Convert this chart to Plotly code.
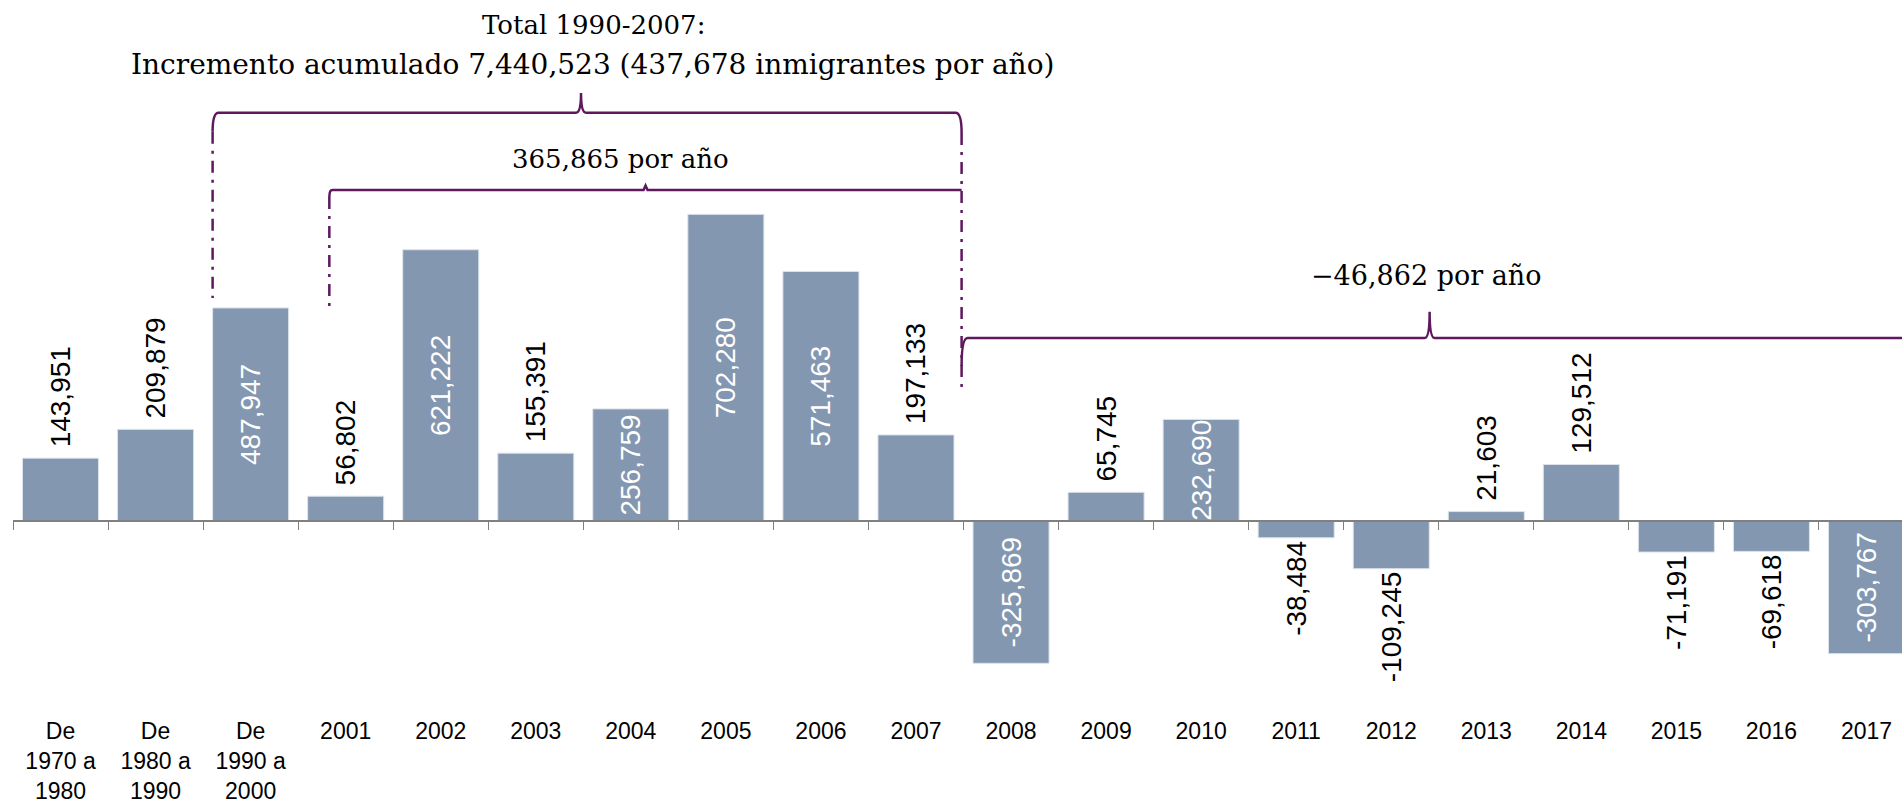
import plotly.graph_objects as go

# ---------------- data ----------------
categories = ["De<br>1970 a<br>1980", "De<br>1980 a<br>1990", "De<br>1990 a<br>2000",
              "2001", "2002", "2003", "2004", "2005", "2006", "2007", "2008", "2009",
              "2010", "2011", "2012", "2013", "2014", "2015", "2016", "2017"]
values = [143951, 209879, 487947, 56802, 621222, 155391, 256759, 702280, 571463, 197133,
          -325869, 65745, 232690, -38484, -109245, 21603, 129512, -71191, -69618, -303767]

total_title = "Total 1990-2007:"
total_text = "Incremento acumulado 7,440,523 (437,678 inmigrantes por año)"
avg_2001_2007 = "365,865 por año"
avg_2008_2017 = "\u221246,862 por año"

# ---------------- layout geometry ----------------
W, H = 1902, 803
PLOT_LEFT = 13
PLOT_BOTTOM = 715
ZERO_PX = 521
VAL_PER_PX = 2290
CAT_W = 95.05
X_MAX = -0.5 + (W - PLOT_LEFT) / CAT_W
Y_MAX = ZERO_PX * VAL_PER_PX
Y_MIN = -(PLOT_BOTTOM - ZERO_PX) * VAL_PER_PX

BAR_COLOR = "#8497B0"
PURPLE = "#5f175f"
SANS = "Liberation Sans, Arial, sans-serif"
SERIF = "DejaVu Serif, serif"


def yp(px):
    return (PLOT_BOTTOM - px) / PLOT_BOTTOM


def d(px):
    return px / CAT_W


labels = []
positions = []
for v in values:
    inside = abs(v) > 220000
    positions.append("inside" if inside else "outside")
    txt = f"{v:,}"
    if not inside and v > 0:
        txt = "\u00a0" + txt
    labels.append(txt)

fig = go.Figure()
fig.add_trace(go.Scatter(x=categories, y=[0] * len(categories), xaxis="x2", yaxis="y",
                         mode="markers", marker=dict(opacity=0), hoverinfo="skip",
                         showlegend=False))
fig.add_trace(go.Bar(
    x=categories, y=values, text=labels, textposition=positions, textangle=-90,
    insidetextanchor="middle", constraintext="none", cliponaxis=False,
    insidetextfont=dict(color="white", size=28, family=SANS),
    outsidetextfont=dict(color="black", size=28, family=SANS),
    marker=dict(color=BAR_COLOR, line=dict(color="#dde3eb", width=1)),
    width=0.8, hoverinfo="skip", showlegend=False))

# ---------------- braces ----------------
b1L, b1R, b1M = 1.6, 9.48, 5.476
b2L, b2M = 2.828, 6.155
b3M = 14.404
b3R = 19.9

shapes = []
line = dict(color=PURPLE, width=2.5)
dash = dict(color=PURPLE, width=2.5, dash="12px,7px,3px,7px")

p1 = (f"M {b1L},{yp(131.7)} Q {b1L},{yp(112.7)} {b1L + d(6)},{yp(112.7)} "
      f"L {b1M - d(5)},{yp(112.7)} Q {b1M},{yp(112.7)} {b1M},{yp(93)} "
      f"Q {b1M},{yp(112.7)} {b1M + d(5)},{yp(112.7)} "
      f"L {b1R - d(6)},{yp(112.7)} Q {b1R},{yp(112.7)} {b1R},{yp(133)}")
p2 = (f"M {b2L},{yp(197)} Q {b2L},{yp(190)} {b2L + d(3)},{yp(190)} "
      f"L {b2M - d(2)},{yp(190)} L {b2M},{yp(185.5)} L {b2M + d(2)},{yp(190)} "
      f"L {b1R},{yp(190)}")
p3 = (f"M {b1R},{yp(366)} Q {b1R},{yp(338)} {b1R + d(6)},{yp(338)} "
      f"L {b3M - d(5)},{yp(338)} Q {b3M},{yp(338)} {b3M},{yp(311.7)} "
      f"Q {b3M},{yp(338)} {b3M + d(5)},{yp(338)} "
      f"L {b3R - d(6)},{yp(338)} Q {b3R},{yp(338)} {b3R},{yp(366)}")
for p in (p1, p2, p3):
    shapes.append(dict(type="path", path=p, xref="x", yref="paper", line=line, layer="above"))

for xx, y0, y1 in ((b1L, 131.7, 298), (b2L, 197, 306), (b1R, 133, 393)):
    shapes.append(dict(type="line", xref="x", yref="paper", x0=xx, x1=xx,
                       y0=yp(y0), y1=yp(y1), line=dash, layer="above"))

annotations = [
    dict(text=total_title, x=5.61, y=yp(25), size=26),
    dict(text=total_text, x=5.6, y=yp(64), size=28),
    dict(text=avg_2001_2007, x=5.895, y=yp(159), size=26),
    dict(text=avg_2008_2017, x=14.37, y=yp(275), size=27),
]
annotations = [dict(text=a["text"], x=a["x"], y=a["y"], xref="x", yref="paper",
                    showarrow=False, xanchor="center", yanchor="middle",
                    font=dict(family=SERIF, size=a["size"], color="black"))
               for a in annotations]

fig.update_layout(
    width=W, height=H,
    margin=dict(l=PLOT_LEFT, r=0, t=0, b=H - PLOT_BOTTOM, pad=0, autoexpand=False),
    paper_bgcolor="white", plot_bgcolor="white",
    showlegend=False,
    xaxis=dict(type="category", range=[-0.5, X_MAX], showline=False, ticks="",
               showgrid=False, zeroline=False, automargin=False,
               tickfont=dict(family=SANS, size=23, color="black")),
    xaxis2=dict(type="category", overlaying="x", anchor="free",
                position=(PLOT_BOTTOM - ZERO_PX) / PLOT_BOTTOM, automargin=False,
                range=[-0.5, X_MAX], showline=True, linecolor="#808080", linewidth=1.5,
                ticks="outside", tickson="boundaries", ticklen=8, tickcolor="#808080",
                tickwidth=1, showticklabels=False, showgrid=False, zeroline=False),
    yaxis=dict(range=[Y_MIN, Y_MAX], visible=False, automargin=False),
    shapes=shapes,
    annotations=annotations,
)

fig.write_html("out.html", config=dict(displayModeBar=False),
               post_script="document.body.style.margin='0';document.body.style.padding='0';")
